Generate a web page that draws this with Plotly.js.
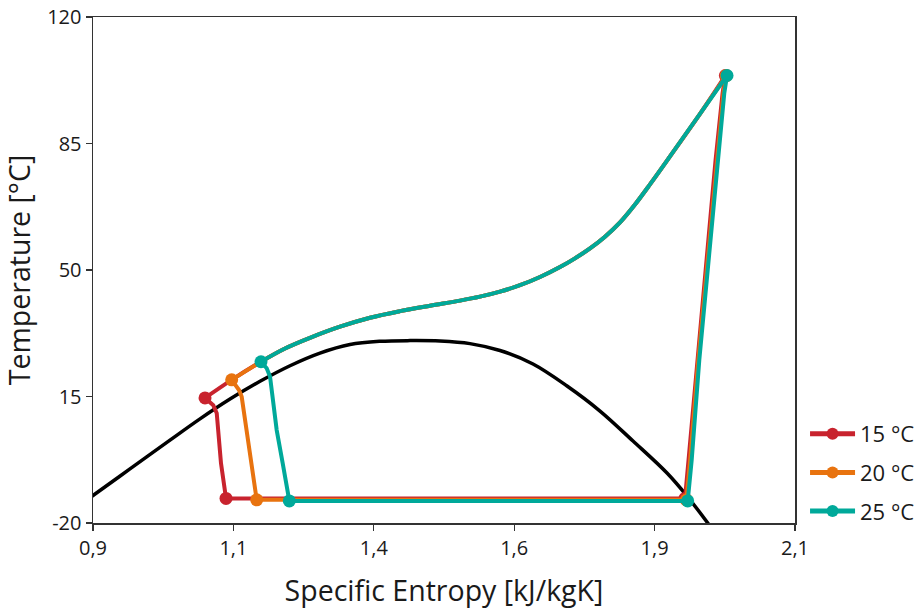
<!DOCTYPE html>
<html>
<head>
<meta charset="utf-8">
<script src="https://cdn.plot.ly/plotly-3.0.1.min.js"></script>
<style>
  html, body { margin: 0; padding: 0; background: #fff; }
  #chart { width: 923px; height: 611px; }
</style>
</head>
<body>
<div id="chart"></div>
<script>
// Saturation dome (black)
const domeS = [0.8607, 0.9000, 0.9632, 1.0316, 1.0829, 1.1342, 1.1855, 1.2368, 1.2880, 1.3393, 1.3906, 1.4419, 1.4932, 1.5444, 1.5957, 1.6521, 1.7103, 1.7667, 1.8231, 1.8812, 1.9154, 1.9496, 1.9718];
const domeT = [-16.97, -12.40, -5.04, 2.93, 8.82, 14.30, 19.20, 23.51, 27.00, 29.38, 30.27, 30.46, 30.35, 29.63, 27.72, 23.99, 17.90, 10.98, 2.68, -6.18, -12.54, -19.73, -24.70];

// Shared gas-cooler isobar (below the compressor outlet, down to the 25 °C point)
const gcS = [1.9376, 1.8863, 1.8521, 1.8265, 1.8009, 1.7752, 1.7496, 1.7239, 1.6983, 1.6641, 1.6299, 1.5957, 1.5615, 1.5274, 1.4761, 1.4248, 1.3735, 1.3222, 1.2709, 1.2282];
const gcT = [93.22, 81.43, 73.68, 68.12, 63.17, 59.21, 55.97, 53.23, 50.82, 48.06, 45.79, 44.02, 42.63, 41.53, 40.12, 38.62, 36.80, 34.31, 31.23, 28.27];

// Gas-cooler outlet points (15 °C, 20 °C, 25 °C)
const outS = [1.0915, 1.1371, 1.1872];
const outT = [14.6, 19.6, 24.62];

// Cycle 15 °C : compressor outlet, then outlet -> expansion -> evaporator -> compression
const top15 = [1.9810, 103.8];
const s15 = [1.0915, 1.1056, 1.1115, 1.1188, 1.1274, 1.9120, 1.9180, 1.9330, 1.9488, 1.9642, 1.9762, 1.9810];
const t15 = [14.6, 12.6, 10.4, -3.5, -13.2, -13.2, -2.6, 25.1, 52.8, 80.4, 98.9, 103.8];
const m15 = [1, 0, 0, 0, 1, 1, 0, 0, 0, 0, 0, 1];

// Cycle 20 °C
const top20 = [1.9825, 103.8];
const s20 = [1.1371, 1.1496, 1.1542, 1.1627, 1.1713, 1.1798, 1.9143, 1.9207, 1.9347, 1.9503, 1.9657, 1.9777, 1.9825];
const t20 = [19.6, 16.8, 14.9, 5.7, -5.3, -13.6, -13.6, -2.6, 25.1, 52.8, 80.4, 98.9, 103.8];
const m20 = [1, 0, 0, 0, 0, 1, 1, 0, 0, 0, 0, 0, 1];

// Cycle 25 °C
const top25 = [1.9838, 103.81];
const s25 = [1.1872, 1.1969, 1.2026, 1.2072, 1.2140, 1.2243, 1.2356, 1.9166, 1.9234, 1.9364, 1.9518, 1.9672, 1.9791, 1.9838];
const t25 = [24.62, 22.8, 20.5, 14.9, 5.7, -3.5, -13.9, -13.9, -2.6, 25.1, 52.8, 80.4, 98.9, 103.81];
const m25 = [1, 0, 0, 0, 0, 0, 1, 1, 0, 0, 0, 0, 0, 1];

const seriesNames = ['15 °C', '20 °C', '25 °C'];
const seriesColors = ['#C8232E', '#E8730F', '#00A99A'];

const xTickVals = [0.9, 1.14, 1.38, 1.62, 1.86, 2.1];
const xTickText = ['0,9', '1,1', '1,4', '1,6', '1,9', '2,1'];
const yTickVals = [-20, 15, 50, 85, 120];
const yTickText = ['-20', '15', '50', '85', '120'];

const FONT = 'Open Sans, Noto Sans, sans-serif';
const MS = 13;

const cycles = [[top15, s15, t15, m15], [top20, s20, t20, m20], [top25, s25, t25, m25]];

const traces = [{
  x: domeS, y: domeT, mode: 'lines', type: 'scatter',
  line: {color: '#000000', width: 3.5, shape: 'spline', smoothing: 1},
  showlegend: false, hoverinfo: 'skip'
}];
cycles.forEach((c, i) => {
  const cx = [c[0][0]].concat(gcS);
  const cy = [c[0][1]].concat(gcT);
  for (let k = outS.length - 1; k >= i; k--) { cx.push(outS[k]); cy.push(outT[k]); }
  traces.push({
    x: cx, y: cy, type: 'scatter', mode: 'lines',
    legendgroup: 'g' + i, showlegend: false,
    line: {color: seriesColors[i], width: 4, shape: 'spline', smoothing: 1}
  });
  traces.push({
    x: c[1], y: c[2], type: 'scatter', mode: 'lines+markers',
    name: seriesNames[i],
    legendgroup: 'g' + i,
    line: {color: seriesColors[i], width: 4},
    marker: {color: seriesColors[i], size: c[3].map(v => v * MS), opacity: 1, line: {width: 0}}
  });
});

const layout = {
  width: 923, height: 611,
  margin: {l: 93, r: 128, t: 17, b: 88},
  paper_bgcolor: '#ffffff', plot_bgcolor: '#ffffff',
  font: {family: FONT, color: '#1a1a1a', size: 20},
  showlegend: true,
  legend: {
    xref: 'container', yref: 'container',
    x: 0.8722, xanchor: 'left', y: 0.1293, yanchor: 'bottom',
    font: {family: FONT, size: 22, color: '#1a1a1a'},
    itemsizing: 'constant', itemwidth: 45,
    traceorder: 'grouped', tracegroupgap: 7,
    bgcolor: 'rgba(0,0,0,0)'
  },
  xaxis: {
    range: [0.9, 2.1], tickvals: xTickVals, ticktext: xTickText,
    showgrid: false, zeroline: false,
    showline: true, linecolor: '#333333', linewidth: 1.5, mirror: true,
    ticks: 'outside', ticklen: 6, tickwidth: 1.2, tickcolor: '#333333',
    tickfont: {family: FONT, size: 20, color: '#1a1a1a'},
    title: {text: 'Specific Entropy [kJ/kgK]', font: {family: FONT, size: 28.5, color: '#1a1a1a'}, standoff: 21},
    automargin: false
  },
  yaxis: {
    range: [-20, 120], tickvals: yTickVals, ticktext: yTickText,
    showgrid: false, zeroline: false,
    showline: true, linecolor: '#333333', linewidth: 1.5, mirror: true,
    ticks: 'outside', ticklen: 6, tickwidth: 1.2, tickcolor: '#333333',
    tickfont: {family: FONT, size: 20, color: '#1a1a1a'},
    title: {text: 'Temperature [°C]', font: {family: FONT, size: 28.5, color: '#1a1a1a'}, standoff: 12},
    automargin: false
  }
};

Plotly.newPlot('chart', traces, layout, {staticPlot: true, displayModeBar: false});
</script>
</body>
</html>
